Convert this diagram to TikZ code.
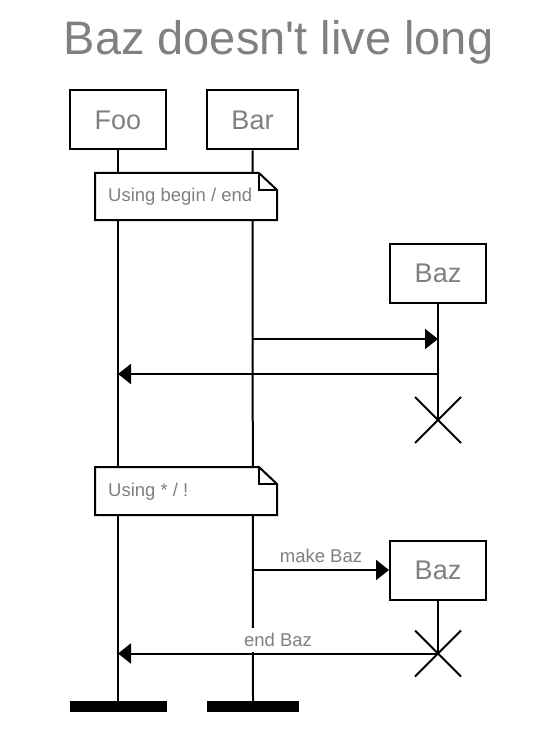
\documentclass[tikz,border=0pt]{standalone}
\usepackage{fontspec}
\setmainfont{Liberation Sans}[Ligatures=TeXOff]
\usetikzlibrary{arrows.meta,calc}
\definecolor{txtgray}{RGB}{128,128,128}
\tikzset{
  part/.style={draw=black, line width=2pt, fill=white, minimum width=96pt, minimum height=59pt, inner sep=0pt, text=txtgray, font=\fontsize{27}{30}\selectfont},
  life/.style={line width=2pt},
  msg/.style={line width=2pt, -{Triangle[length=13pt,width=20pt]}},
  lbl/.style={text=txtgray, font=\fontsize{18.5}{20}\selectfont, fill=white, inner sep=0pt, text height=19pt, text depth=5.5pt, anchor=base, yshift=8pt},
  notetxt/.style={text=txtgray, font=\fontsize{18.5}{20}\selectfont, anchor=west, inner sep=0pt},
  endbar/.style={fill=black, draw=none},
  xline/.style={line width=2pt}
}
\begin{document}
\begin{tikzpicture}[x=1pt,y=-1pt]
\useasboundingbox[fill=white] (0,0) rectangle (558,730);
% title
\node[text=txtgray, font=\fontsize{47}{50}\selectfont, anchor=base] (title) at (278.5,55) {Baz doesn't live long};
% participants
\node[part] (foo) at (118,120) {Foo};
\node[part, minimum width=91pt] (bar) at (252.5,120) {Bar};
\coordinate (fooend) at (118,701);
\coordinate (barend) at (253,701);
% lifelines
\draw[life] (foo.south) -- (fooend);
\draw[life] (bar.south) -- (barend);
% end bars
\node[endbar, minimum width=97pt, minimum height=11pt, inner sep=0pt] (foobar) at (118.5,706) {};
\node[endbar, minimum width=92pt, minimum height=11pt, inner sep=0pt] (barbar) at (253,706) {};
% note 1
\draw[line width=2pt, fill=white] (95,173) -- (259,173) -- (277,190) -- (277,220) -- (95,220) -- cycle;
\draw[line width=2pt] (259,173) -- (259,190) -- (277,190);
\node[notetxt] (n1) at (108,197) {Using begin / end};
% Baz 1
\node[part] (baz1) at (438,273.5) {Baz};
\coordinate (x1) at (438,420);
\draw[life] (baz1.south) -- (x1);
\draw[xline] ($(x1)+(-23,-23)$) -- ($(x1)+(23,23)$);
\draw[xline] ($(x1)+(-23,23)$) -- ($(x1)+(23,-23)$);
\coordinate (m1s) at (253,339);
\coordinate (m1e) at (438,339);
\draw[msg] (m1s) -- (m1e);
\coordinate (m2s) at (438,374);
\coordinate (m2e) at (118,374);
\draw[msg] (m2s) -- (m2e);
% note 2
\draw[line width=2pt, fill=white] (95,467) -- (259,467) -- (277,484) -- (277,515) -- (95,515) -- cycle;
\draw[line width=2pt] (259,467) -- (259,484) -- (277,484);
\node[notetxt] (n2) at (108,491.5) {Using * / !};
% Baz 2
\node[part] (baz2) at (438,570) {Baz};
\coordinate (m3s) at (253,570);
\draw[msg] (m3s) -- node[lbl] (l3) {make Baz} (baz2.west);
\coordinate (x2) at (438,653.5);
\draw[life] (baz2.south) -- (x2);
\draw[xline] ($(x2)+(-23,-23)$) -- ($(x2)+(23,23)$);
\draw[xline] ($(x2)+(-23,23)$) -- ($(x2)+(23,-23)$);
\coordinate (m4e) at (118,653.5);
\draw[msg] (x2) -- node[lbl, yshift=-1pt] (l4) {end Baz} (m4e);
\end{tikzpicture}
\end{document}
